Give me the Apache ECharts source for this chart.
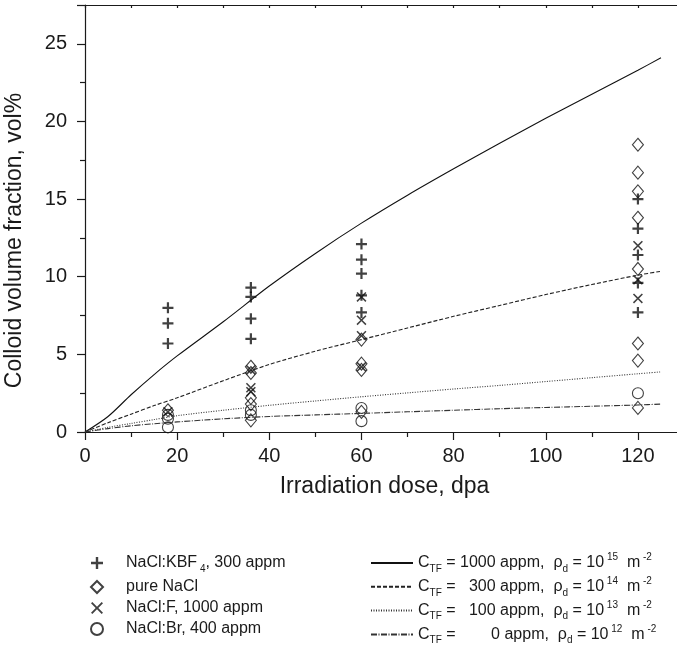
<!DOCTYPE html>
<html>
<head>
<meta charset="utf-8">
<script src="https://cdn.jsdelivr.net/npm/echarts@6/dist/echarts.min.js"></script>
<style>html,body{margin:0;padding:0;background:#fff}#c{width:677px;height:645px}</style>
</head>
<body>
<div id="c"></div>
<script>
// ---- data ----
const xTicks = [0, 20, 40, 60, 80, 100, 120];
const yTicks = [0, 5, 10, 15, 20, 25];

const kbf4Dose = [18, 18, 18, 36, 36, 36, 36, 60, 60, 60, 60, 60, 120, 120, 120, 120, 120];
const kbf4Vol  = [8.0, 7.0, 5.7, 9.3, 8.7, 7.3, 6.0, 12.1, 11.1, 10.2, 8.8, 7.7, 15.0, 13.1, 11.4, 9.6, 7.7];

const pureDose = [18, 36, 36, 36, 36, 36, 60, 60, 60, 60, 120, 120, 120, 120, 120, 120, 120, 120];
const pureVol  = [1.4, 4.2, 3.8, 2.2, 1.8, 0.75, 5.95, 4.4, 4.0, 1.3, 18.5, 16.7, 15.5, 13.8, 10.5, 5.7, 4.6, 1.55];

const fDose = [18, 36, 36, 36, 60, 60, 60, 60, 120, 120, 120];
const fVol  = [1.3, 4.0, 2.85, 2.6, 8.7, 7.2, 6.2, 4.2, 12.0, 9.8, 8.6];

const brDose = [18, 18, 18, 36, 36, 60, 60, 120];
const brVol  = [1.1, 0.85, 0.3, 1.4, 1.1, 1.55, 0.7, 2.5];

const curveDose = [0, 5, 10, 15, 20, 30, 40, 50, 60, 70, 80, 90, 100, 110, 120, 125];
const curve1000 = [0, 1.0, 2.4, 3.7, 4.9, 7.1, 9.4, 11.5, 13.45, 15.25, 16.95, 18.6, 20.2, 21.75, 23.3, 24.1];
const curve300  = [0, 0.6, 1.15, 1.7, 2.2, 3.3, 4.35, 5.2, 5.95, 6.7, 7.45, 8.15, 8.85, 9.5, 10.1, 10.35];
const curve100  = [0, 0.3, 0.55, 0.8, 1.05, 1.4, 1.72, 2.0, 2.27, 2.52, 2.77, 3.0, 3.25, 3.5, 3.75, 3.87];
const curve0    = [0, 0.22, 0.4, 0.53, 0.65, 0.85, 1.0, 1.1, 1.2, 1.3, 1.4, 1.5, 1.58, 1.66, 1.74, 1.8];

const scatterNames = ['NaCl:KBF4, 300 appm', 'pure NaCl', 'NaCl:F, 1000 appm', 'NaCl:Br, 400 appm'];
const curveNames = ['C1000', 'C300', 'C100', 'C0'];
const curveConc = ['1000', '  300', '  100', '       0'];
const curveRhoExp = ['15', '14', '13', '12'];

// ---- helpers ----
const zip = (xs, ys) => xs.map((x, i) => [x, ys[i]]);
const FONT = 'Liberation Sans, Arial, Helvetica, sans-serif';
const INK = '#1a1a1a';
const plusPath = 'path://M-1,-5L1,-5L1,-1L5,-1L5,1L1,1L1,5L-1,5L-1,1L-5,1L-5,-1L-1,-1Z';
const crossPath = 'path://M-5,-3.9L-3.9,-5L0,-1.1L3.9,-5L5,-3.9L1.1,0L5,3.9L3.9,5L0,1.1L-3.9,5L-5,3.9L-1.1,0Z';

const richL = {
  n: { fontSize: 16, fontFamily: FONT, color: INK, lineHeight: 18, verticalAlign: 'middle' },
  sub: { fontSize: 10, fontFamily: FONT, color: INK, lineHeight: 18, verticalAlign: 'middle', padding: [12, 0, 0, 0] }
};
const richR = {
  n: { fontSize: 16, fontFamily: FONT, color: INK, lineHeight: 20, verticalAlign: 'middle' },
  sub: { fontSize: 10, fontFamily: FONT, color: INK, lineHeight: 20, verticalAlign: 'middle', padding: [12, 0, 0, 0] },
  sup: { fontSize: 10, fontFamily: FONT, color: INK, lineHeight: 20, verticalAlign: 'middle', padding: [0, 0, 11, 0] }
};

const chart = echarts.init(document.getElementById('c'), null, { renderer: 'canvas' });

const axisLineStyle = { color: INK, width: 1.2 };

const option = {
  animation: false,
  backgroundColor: '#fff',
  grid: { left: 85, top: 5, right: -7, bottom: 213, containLabel: false, outerBoundsMode: 'none' },
  xAxis: [{
    type: 'value', min: 0, max: 130, interval: 20,
    name: 'Irradiation dose, dpa', nameLocation: 'middle', nameGap: 43,
    nameTextStyle: { fontSize: 23, fontFamily: FONT, color: INK },
    axisLine: { show: true, onZero: false, lineStyle: axisLineStyle },
    axisTick: { show: true, inside: false, length: 8, lineStyle: axisLineStyle },
    minorTick: { show: true, splitNumber: 2, length: 5, lineStyle: { color: INK, width: 1.2 } },
    axisLabel: { fontSize: 20, fontFamily: FONT, color: INK, margin: 14,
      formatter: v => (xTicks.indexOf(v) >= 0 ? String(v) : '') },
    splitLine: { show: false }
  }, {
    type: 'value', min: 0, max: 130, interval: 10, position: 'top',
    axisLine: { show: true, onZero: false, lineStyle: axisLineStyle },
    axisTick: { show: true, inside: true, length: 3, lineStyle: axisLineStyle },
    axisLabel: { show: false }, splitLine: { show: false }
  }],
  yAxis: {
    type: 'value', min: 0, max: 27.5, interval: 5,
    name: 'Colloid volume fraction, vol%', nameLocation: 'middle', nameGap: 59,
    nameTextStyle: { fontSize: 23, fontFamily: FONT, color: INK, padding: [0, 44, 0, 0] },
    axisLine: { show: true, onZero: false, lineStyle: axisLineStyle },
    axisTick: { show: true, inside: false, length: 8, lineStyle: axisLineStyle },
    minorTick: { show: true, splitNumber: 2, length: 5, lineStyle: { color: INK, width: 1.2 } },
    axisLabel: { fontSize: 20, fontFamily: FONT, color: INK, margin: 18,
      formatter: v => (yTicks.indexOf(v) >= 0 ? String(v) : '') },
    splitLine: { show: false }
  },
  legend: [{
    data: scatterNames, orient: 'vertical', left: 90, top: 552, height: 110, padding: 0,
    itemWidth: 12, itemHeight: 12, itemGap: 5,
    formatter: name => name === scatterNames[0]
      ? '{n|NaCl:KBF}{sub| 4}{n|, 300 appm}'
      : '{n|' + name + '}',
    textStyle: { fontSize: 16, fontFamily: FONT, color: INK, padding: [0, 0, 0, 18], rich: richL }
  }, {
    data: curveNames, orient: 'vertical', left: 370, top: 552, height: 120, padding: 0,
    itemWidth: 42, itemHeight: 14, itemGap: 1.8,
    itemStyle: { color: 'rgba(0,0,0,0)', borderWidth: 0, opacity: 0 },
    formatter: name => {
      const i = curveNames.indexOf(name);
      return '{n|C}{sub|TF}{n| = ' + curveConc[i] + ' appm,  ρ}{sub|d}{n| = 10}{sup| ' + curveRhoExp[i] + '}{n|  m}{sup| -2}';
    },
    textStyle: { fontSize: 16, fontFamily: FONT, color: INK, rich: richR }
  }],
  series: [
    { name: 'C1000', type: 'line', data: zip(curveDose, curve1000), smooth: 0.3, symbol: 'none',
      lineStyle: { color: '#111', width: 1.1, type: 'solid' }, itemStyle: { color: '#111' } },
    { name: 'C300', type: 'line', data: zip(curveDose, curve300), smooth: 0.3, symbol: 'none',
      lineStyle: { color: '#222', width: 1.1, type: [4, 2] }, itemStyle: { color: '#222' } },
    { name: 'C100', type: 'line', data: zip(curveDose, curve100), smooth: 0.3, symbol: 'none',
      lineStyle: { color: '#333', width: 1.1, type: [1, 1.5] }, itemStyle: { color: '#333' } },
    { name: 'C0', type: 'line', data: zip(curveDose, curve0), smooth: 0.3, symbol: 'none',
      lineStyle: { color: '#333', width: 1.1, type: [6, 1.5, 1, 1.5] }, itemStyle: { color: '#333' } },
    { name: scatterNames[0], type: 'scatter', data: zip(kbf4Dose, kbf4Vol), symbol: plusPath, symbolSize: 11,
      itemStyle: { color: '#111' } },
    { name: scatterNames[1], type: 'scatter', data: zip(pureDose, pureVol), symbol: 'diamond', symbolSize: [11, 13],
      itemStyle: { color: 'rgba(0,0,0,0)', borderColor: '#111', borderWidth: 1.1 } },
    { name: scatterNames[2], type: 'scatter', data: zip(fDose, fVol), symbol: crossPath, symbolSize: 10,
      itemStyle: { color: '#111' } },
    { name: scatterNames[3], type: 'scatter', data: zip(brDose, brVol), symbol: 'circle', symbolSize: 11,
      itemStyle: { color: 'rgba(0,0,0,0)', borderColor: '#111', borderWidth: 1.1 } }
  ]
};
chart.setOption(option);
</script>
</body>
</html>
